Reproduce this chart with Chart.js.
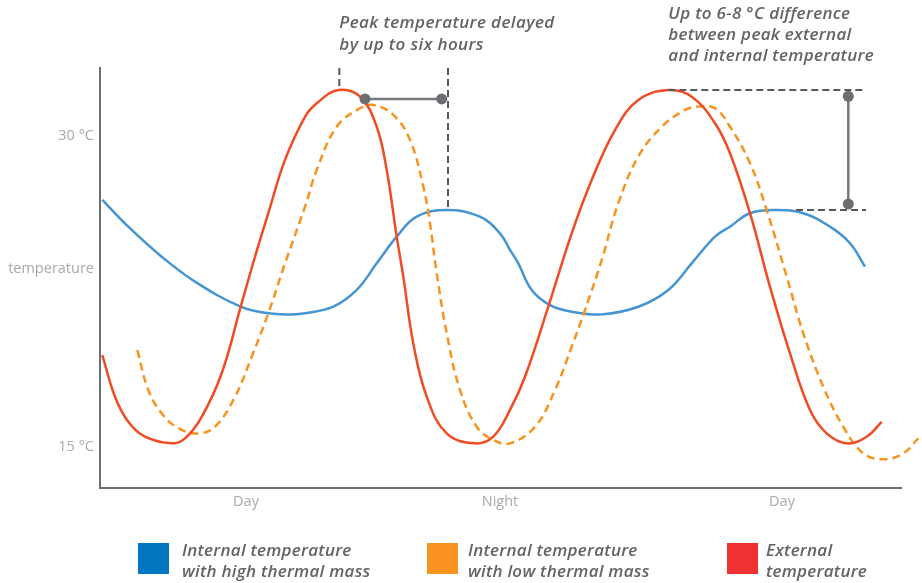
<!DOCTYPE html>
<html><head><meta charset="utf-8">
<script src="https://cdn.jsdelivr.net/npm/chart.js@4"></script>
<style>html,body{margin:0;padding:0;background:#fff}#wrap{width:922px;height:583px}</style>
</head><body><div id="wrap"><canvas id="c" width="922" height="583"></canvas></div>
<script>
// ---- tick labels ----
const xTickValues = [146, 400, 682];
const xTickLabels = ['Day', 'Night', 'Day'];
const yTickValues = [15, 23.6, 30];
const yTickLabels = ['15 °C', 'temperature', '30 °C'];
const xAxisEnd = 802;

// ---- series (x: time units along the axis, y: °C) ----
const highMassX = [2.3,28.3,61.7,95,140.7,168.3,191.7,205,233.3,256.7,276.7,296.7,316.7,346.7,380,400,410,418.3,431.7,450,471.7,501.7,538.3,568.3,591.7,615,630,650,676.7,703.3,730,750,765];
const highMassY = [26.82,25.53,24.08,22.88,21.67,21.35,21.30,21.35,21.67,22.48,23.76,25.05,26.01,26.33,26.01,25.21,24.41,23.76,22.48,21.75,21.43,21.30,21.67,22.48,23.76,25.05,25.53,26.18,26.33,26.18,25.53,24.73,23.60];

const lowMassX = [37.3,48.3,61.7,78.3,98.3,115,135,151.7,168.3,185,205,216.7,236.7,260,273.3,293.3,310,323.3,330,336.7,346.7,360,376.7,393.3,410,435,455,471.7,485,501.7,518.3,538.3,561.7,585,598.3,615,630,650,666.7,686.7,703.3,723.3,743.3,763.3,783.3,803.3,818.3];
const lowMassY = [19.58,17.65,16.53,15.81,15.56,15.88,17.33,19.26,21.35,23.76,26.49,28.26,30.35,31.24,31.40,30.92,29.71,27.46,25.69,23.28,20.39,17.65,15.88,15.24,15.08,15.88,17.65,19.74,21.51,23.92,26.66,28.91,30.35,31.16,31.32,31.24,30.35,28.59,26.33,23.12,20.39,17.81,15.88,14.60,14.31,14.60,15.32];

const externalX = [2.3,15,28.3,45,71.7,85,101.7,121.7,140.7,155,168.3,185,205,216.7,238.3,260,276.7,286.7,296.7,303.3,313.3,326.7,346.7,375,393.3,410,425,448.3,471.7,491.7,515,538.3,568.3,591.7,615,630,650,670,690,710,726.7,746.7,766.7,781.7];
const externalY = [19.34,17.33,16.12,15.40,15.08,15.32,16.36,18.46,21.67,24.08,26.18,28.75,30.83,31.48,32.12,31.80,30.35,28.26,25.05,23.12,19.90,17.33,15.56,15.08,15.40,16.69,18.29,21.67,25.21,27.78,30.19,31.64,32.12,31.80,30.52,29.07,26.18,22.63,19.42,16.69,15.56,15.08,15.40,16.12];

const seriesNames = [
  ['Internal temperature', 'with high thermal mass'],
  ['Internal temperature', 'with low thermal mass'],
  ['External', 'temperature']
];

// ---- annotations (data units) ----
const delayNote = ['Peak temperature delayed', 'by up to six hours'];
const diffNote = ['Up to 6-8 °C difference', 'between peak external', 'and internal temperature'];
const delayMarks = { extPeakX: 239.3, extPeakY: 32.12, intPeakX: 348, intPeakY: 26.33, barY: 31.69, barFrom: 265, barTo: 341.7 };
const diffMarks = { topY: 32.12, topFrom: 568.3, topTo: 765, botY: 26.33, botFrom: 696, botTo: 766, barX: 748.3, barTop: 31.82, barBot: 26.62 };

const pts = (xs, ys) => xs.map((v, i) => ({ x: v, y: ys[i] }));

const AXIS = '#6d6e71';
const TICK = '#a7a9ac';
const NOTE = '#636466';
const NOTE_FONT = 'italic 600 17px "Open Sans"';

const notesPlugin = {
  id: 'notes',
  beforeDatasetsDraw(chart) {
    const { ctx, chartArea } = chart;
    const X = v => chart.scales.x.getPixelForValue(v);
    ctx.save();
    ctx.strokeStyle = AXIS;
    ctx.lineWidth = 2;
    ctx.beginPath();
    ctx.moveTo(X(0) - 1, chartArea.bottom);
    ctx.lineTo(X(xAxisEnd), chartArea.bottom);
    ctx.stroke();
    ctx.restore();
  },
  afterDatasetsDraw(chart) {
    const { ctx, chartArea } = chart;
    const X = v => chart.scales.x.getPixelForValue(v);
    const Y = v => chart.scales.y.getPixelForValue(v);
    const seg = (x1, y1, x2, y2) => { ctx.beginPath(); ctx.moveTo(x1, y1); ctx.lineTo(x2, y2); ctx.stroke(); };
    const dot = (x, y) => { ctx.beginPath(); ctx.arc(x, y, 5.5, 0, Math.PI * 2); ctx.fill(); };
    ctx.save();
    ctx.strokeStyle = '#58595b';
    ctx.lineWidth = 2;
    ctx.setLineDash([7, 4]);
    seg(X(delayMarks.extPeakX), chartArea.top, X(delayMarks.extPeakX), Y(delayMarks.extPeakY));
    seg(X(delayMarks.intPeakX), chartArea.top, X(delayMarks.intPeakX), Y(delayMarks.intPeakY));
    seg(X(diffMarks.topFrom), Y(diffMarks.topY), X(diffMarks.topTo), Y(diffMarks.topY));
    seg(X(diffMarks.botFrom), Y(diffMarks.botY), X(diffMarks.botTo), Y(diffMarks.botY));
    ctx.setLineDash([]);
    ctx.strokeStyle = '#77787b';
    ctx.fillStyle = '#6d6e71';
    ctx.lineWidth = 2.5;
    seg(X(delayMarks.barFrom), Y(delayMarks.barY), X(delayMarks.barTo), Y(delayMarks.barY));
    dot(X(delayMarks.barFrom), Y(delayMarks.barY));
    dot(X(delayMarks.barTo), Y(delayMarks.barY));
    seg(X(diffMarks.barX), Y(diffMarks.barTop), X(diffMarks.barX), Y(diffMarks.barBot));
    dot(X(diffMarks.barX), Y(diffMarks.barTop));
    dot(X(diffMarks.barX), Y(diffMarks.barBot));
    ctx.fillStyle = NOTE;
    ctx.font = NOTE_FONT;
    ctx.letterSpacing = '0.4px';
    ctx.textBaseline = 'alphabetic';
    ctx.textAlign = 'left';
    delayNote.forEach((t, i) => ctx.fillText(t, X(delayMarks.extPeakX), 28 + i * 21.5));
    ctx.letterSpacing = '0.3px';
    diffNote.forEach((t, i) => ctx.fillText(t, X(diffMarks.topFrom), 18.5 + i * 21.3));
    ctx.restore();
  },
  afterDraw(chart) {
    const { ctx } = chart;
    const boxX = [138, 427, 727];
    const textX = [182, 468, 766];
    const colors = ['#0077c0', '#f7931e', '#ee3131'];
    ctx.save();
    ctx.font = NOTE_FONT;
    ctx.letterSpacing = '0.25px';
    ctx.textAlign = 'left';
    ctx.textBaseline = 'alphabetic';
    seriesNames.forEach((lines, i) => {
      ctx.fillStyle = colors[i];
      ctx.fillRect(boxX[i], 543, 31, 31);
      ctx.fillStyle = NOTE;
      lines.forEach((t, j) => ctx.fillText(t, textX[i], 556 + j * 21));
    });
    ctx.restore();
  }
};

const lineStyle = { borderWidth: 2.5, pointRadius: 0, tension: 0.4, clip: false };

new Chart(document.getElementById('c'), {
  type: 'line',
  data: {
    datasets: [
      Object.assign({ label: seriesNames[0].join(' '), data: pts(highMassX, highMassY), borderColor: '#4495d1', order: 3 }, lineStyle),
      Object.assign({ label: seriesNames[1].join(' '), data: pts(lowMassX, lowMassY), borderColor: '#f7931e', borderDash: [8, 5], order: 2 }, lineStyle),
      Object.assign({ label: seriesNames[2].join(' '), data: pts(externalX, externalY), borderColor: '#f04b23', order: 1 }, lineStyle)
    ]
  },
  options: {
    responsive: false,
    devicePixelRatio: 1,
    animation: false,
    events: [],
    layout: { padding: { top: 68, right: 0, bottom: 0, left: 0 } },
    plugins: { legend: { display: false }, tooltip: { enabled: false } },
    scales: {
      x: {
        type: 'linear', min: 0, max: 822,
        grid: { display: false, drawTicks: false },
        border: { display: false },
        afterBuildTicks: s => { s.ticks = xTickValues.map(v => ({ value: v })); },
        afterFit: s => { s.height = 95; },
        ticks: { autoSkip: false, maxRotation: 0, padding: 5, color: TICK, font: { family: 'Open Sans', size: 14.5 },
          callback: (v, i) => xTickLabels[i] }
      },
      y: {
        type: 'linear', min: 12.926, max: 33.183,
        grid: { display: false, drawTicks: false },
        border: { display: true, color: AXIS, width: 2 },
        afterBuildTicks: s => { s.ticks = yTickValues.map(v => ({ value: v })); },
        afterFit: s => { s.width = 100; },
        ticks: { autoSkip: false, padding: 6, labelOffset: 2, color: TICK, font: { family: 'Open Sans', size: 14.5 },
          callback: (v, i) => yTickLabels[i] }
      }
    }
  },
  plugins: [notesPlugin]
});
</script></body></html>
